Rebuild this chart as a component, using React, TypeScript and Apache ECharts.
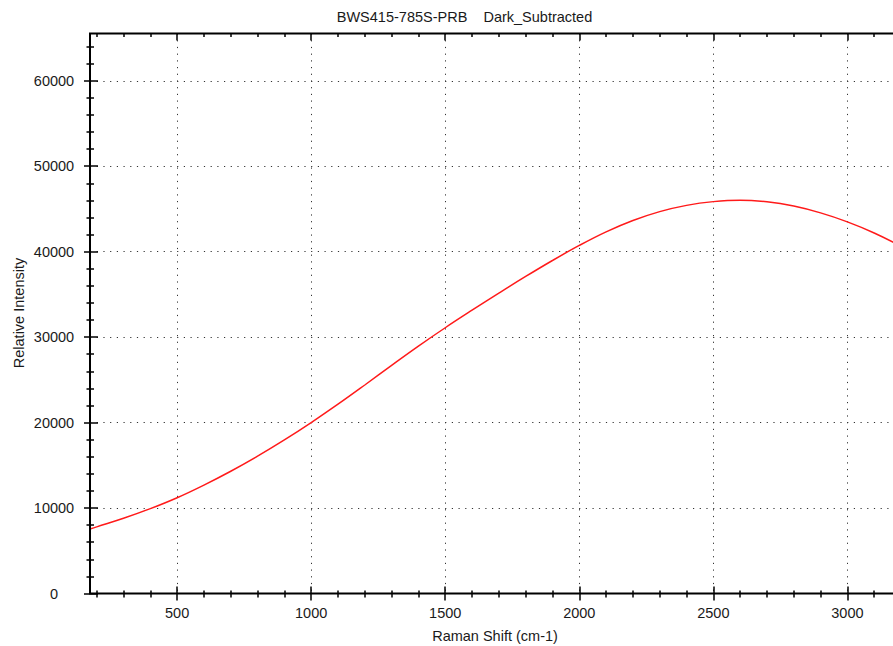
import React, { useEffect, useRef } from "react";
import * as echarts from "echarts";

const titleText = "BWS415-785S-PRB\u00a0\u00a0\u00a0\u00a0Dark_Subtracted";
const xAxisName = "Raman Shift (cm-1)";
const yAxisName = "Relative Intensity";

const ramanShift = [175, 200, 300, 400, 500, 600, 700, 800, 900, 1000, 1100, 1200, 1300, 1400, 1500, 1600, 1700, 1800, 1900, 2000, 2100, 2200, 2300, 2400, 2500, 2600, 2700, 2800, 2900, 3000, 3100, 3200];
const intensity = [7540, 7800, 8800, 9930, 11210, 12690, 14310, 16070, 17970, 20000, 22150, 24400, 26700, 28950, 31100, 33150, 35150, 37100, 38970, 40730, 42320, 43650, 44690, 45420, 45860, 46030, 45840, 45340, 44540, 43490, 42190, 40640];

const xMajorTicks = [500, 1000, 1500, 2000, 2500, 3000];
const xMinorTicks = [200, 300, 400, 600, 700, 800, 900, 1100, 1200, 1300, 1400, 1600, 1700, 1800, 1900, 2100, 2200, 2300, 2400, 2600, 2700, 2800, 2900, 3100];
const yMajorTicks = [0, 10000, 20000, 30000, 40000, 50000, 60000];
const yMinorTicks = [2000, 4000, 6000, 8000, 12000, 14000, 16000, 18000, 22000, 24000, 26000, 28000, 32000, 34000, 36000, 38000, 42000, 44000, 46000, 48000, 52000, 54000, 56000, 58000, 62000, 64000];

const X_MIN = 175;
const X_MAX = 3200;
const Y_MIN = 0;
const Y_MAX = 65535;

export default function App() {
  const ref = useRef<HTMLDivElement>(null);
  useEffect(() => {
    if (!ref.current) return;
    const chart = echarts.init(ref.current, null, { renderer: "svg" });
    const font = "'Liberation Sans', Arial, sans-serif";
    const textColor = "#1a1a1a";
    const tickStyle = { color: "#000", width: 1.5 };
    const dotted = { color: "#333", width: 1, type: [1.2, 5.5] as any };
    const gridBase = { left: 90, top: 33.5, width: 811, height: 560, outerBoundsMode: "none", containLabel: false };
    const hidden = { show: false };
    const plain = (v: number) => String(v);

    const option: any = {
      animation: false,
      backgroundColor: "#fff",
      grid: [
        { ...gridBase, show: true, borderColor: "#000", borderWidth: 2, backgroundColor: "transparent", z: 5 },
        { ...gridBase, show: false },
      ],
      xAxis: [
        {
          type: "value", gridIndex: 0, position: "bottom", min: X_MIN, max: X_MAX, offset: -7,
          axisLine: hidden,
          axisTick: { show: true, inside: false, length: 14, customValues: xMajorTicks, lineStyle: tickStyle },
          axisLabel: { show: true, customValues: xMajorTicks, formatter: plain, margin: 19, color: textColor, fontFamily: font, fontSize: 14.5 },
          splitLine: { show: true, lineStyle: dotted },
        },
        {
          type: "value", gridIndex: 0, position: "top", min: X_MIN, max: X_MAX,
          axisLine: hidden,
          axisTick: { show: true, inside: true, length: 7, customValues: xMajorTicks, lineStyle: tickStyle },
          axisLabel: hidden, splitLine: hidden,
        },
        {
          type: "value", gridIndex: 1, position: "bottom", min: X_MIN, max: X_MAX, offset: -3,
          axisLine: hidden,
          axisTick: { show: true, inside: false, length: 7, customValues: xMinorTicks, lineStyle: tickStyle },
          axisLabel: hidden, splitLine: hidden,
        },
        {
          type: "value", gridIndex: 1, position: "top", min: X_MIN, max: X_MAX,
          axisLine: hidden,
          axisTick: { show: true, inside: true, length: 3.5, customValues: xMinorTicks, lineStyle: tickStyle },
          axisLabel: hidden, splitLine: hidden,
        },
      ],
      yAxis: [
        {
          type: "value", gridIndex: 0, position: "left", min: Y_MIN, max: Y_MAX, offset: -8,
          axisLine: hidden,
          axisTick: { show: true, inside: false, length: 14, customValues: yMajorTicks, lineStyle: tickStyle },
          axisLabel: { show: true, customValues: yMajorTicks, formatter: plain, margin: 44, align: "center", color: textColor, fontFamily: font, fontSize: 14.5 },
          splitLine: { show: true, lineStyle: dotted },
        },
        {
          type: "value", gridIndex: 1, position: "left", min: Y_MIN, max: Y_MAX, offset: -4,
          axisLine: hidden,
          axisTick: { show: true, inside: false, length: 7.5, customValues: yMinorTicks, lineStyle: tickStyle },
          axisLabel: hidden, splitLine: hidden,
        },
      ],
      series: [
        {
          type: "line",
          xAxisIndex: 0,
          yAxisIndex: 0,
          data: ramanShift.map((x, i) => [x, intensity[i]]),
          smooth: 0.4,
          showSymbol: false,
          lineStyle: { color: "#ff1a1a", width: 1.5 },
          z: 3,
        },
      ],
      graphic: [
        {
          type: "text", x: 464.5, y: 16.5,
          style: { text: titleText, fill: textColor, font: `14.5px ${font}`, textAlign: "center", textVerticalAlign: "middle" },
        },
        {
          type: "text", x: 495, y: 636,
          style: { text: xAxisName, fill: textColor, font: `14.5px ${font}`, textAlign: "center", textVerticalAlign: "middle" },
        },
        {
          type: "text", x: 18.5, y: 313, rotation: Math.PI / 2,
          style: { text: yAxisName, fill: textColor, font: `14.5px ${font}`, textAlign: "center", textVerticalAlign: "middle" },
        },
      ],
    };
    chart.setOption(option);
    return () => chart.dispose();
  }, []);
  return (
    <div
      ref={ref}
      style={{ position: "fixed", left: 0, top: 0, width: 893, height: 646, background: "#fff" }}
    />
  );
}
